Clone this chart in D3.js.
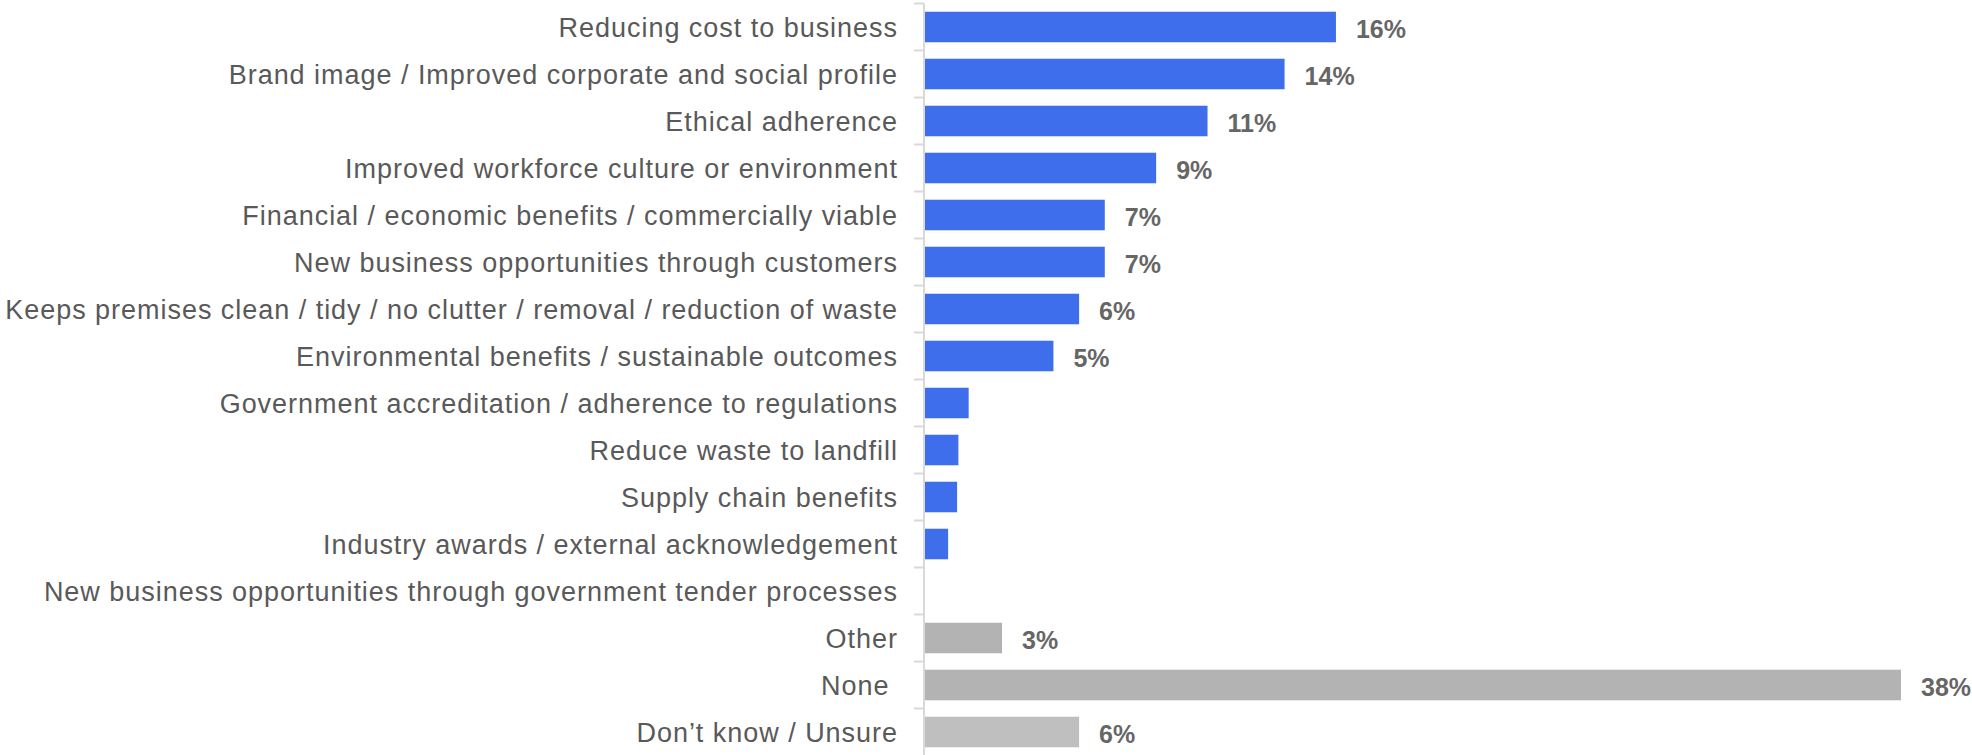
<!DOCTYPE html>
<html>
<head>
<meta charset="utf-8">
<script src="https://cdn.jsdelivr.net/npm/d3@7"></script>
<style>
  html, body { margin: 0; padding: 0; background: #ffffff; }
  svg { display: block; }
</style>
</head>
<body>
<script>
// Reasons / benefits, share of respondents (%)
const categories = [
  "Reducing cost to business",
  "Brand image / Improved corporate and social profile",
  "Ethical adherence",
  "Improved workforce culture or environment",
  "Financial / economic benefits / commercially viable",
  "New business opportunities through customers",
  "Keeps premises clean / tidy / no clutter / removal / reduction of waste",
  "Environmental benefits / sustainable outcomes",
  "Government accreditation / adherence to regulations",
  "Reduce waste to landfill",
  "Supply chain benefits",
  "Industry awards / external acknowledgement",
  "New business opportunities through government tender processes",
  "Other",
  "None\u00a0",
  "Don\u2019t know / Unsure"
];
const values = [16, 14, 11, 9, 7, 7, 6, 5, 1.7, 1.3, 1.25, 0.9, 0, 3, 38, 6];
const groups = ["main", "main", "main", "main", "main", "main", "main", "main",
                "main", "main", "main", "main", "main", "other", "other", "unsure"];

const colors = { main: "#3E6EEB", other: "#B3B3B3", unsure: "#BFBFBF" };

const W = 1972, H = 755;
const axisX = 924;

const svg = d3.select("body").append("svg")
  .attr("width", W).attr("height", H);

const x = d3.scaleLinear().domain([0, 38]).range([925, 1901]);
const y = d3.scaleBand().domain(categories).range([3.5, 755.5])
  .paddingInner(0.35).paddingOuter(0.175);

const data = categories.map((c, i) => ({ cat: c, value: values[i], group: groups[i] }));

// bars
svg.append("g").selectAll("rect").data(data).join("rect")
  .attr("x", x(0))
  .attr("y", d => y(d.cat))
  .attr("width", d => x(d.value) - x(0))
  .attr("height", y.bandwidth())
  .attr("fill", d => colors[d.group]);

// category axis: line plus ticks between bands
const gap = (y.step() - y.bandwidth()) / 2;
const boundaries = categories.map(c => y(c) - gap);
const axis = svg.append("g");
axis.append("line")
  .attr("x1", axisX).attr("x2", axisX)
  .attr("y1", boundaries[0]).attr("y2", H)
  .attr("stroke", "#D9D9D9").attr("stroke-width", 2);
axis.selectAll("line.tick").data(boundaries).join("line")
  .attr("class", "tick")
  .attr("x1", axisX - 10).attr("x2", axisX)
  .attr("y1", d => d).attr("y2", d => d)
  .attr("stroke", "#D9D9D9").attr("stroke-width", 2);

// category labels
svg.append("g").selectAll("text").data(data).join("text")
  .attr("x", 898)
  .attr("y", d => y(d.cat) + y.bandwidth() / 2 + 9.7)
  .attr("text-anchor", "end")
  .attr("font-family", "'Liberation Sans', Arial, sans-serif")
  .attr("font-size", 27)
  .attr("letter-spacing", 0.97)
  .attr("fill", "#595959")
  .text(d => d.cat);

// value labels
svg.append("g").selectAll("text").data(data.filter(d => d.value >= 3)).join("text")
  .attr("x", d => x(d.value) + 20)
  .attr("y", d => y(d.cat) + y.bandwidth() / 2 + 11)
  .attr("font-family", "'Liberation Sans', Arial, sans-serif")
  .attr("font-size", 25)
  .attr("font-weight", "bold")
  .attr("fill", "#666666")
  .text(d => d.value + "%");
</script>
</body>
</html>
